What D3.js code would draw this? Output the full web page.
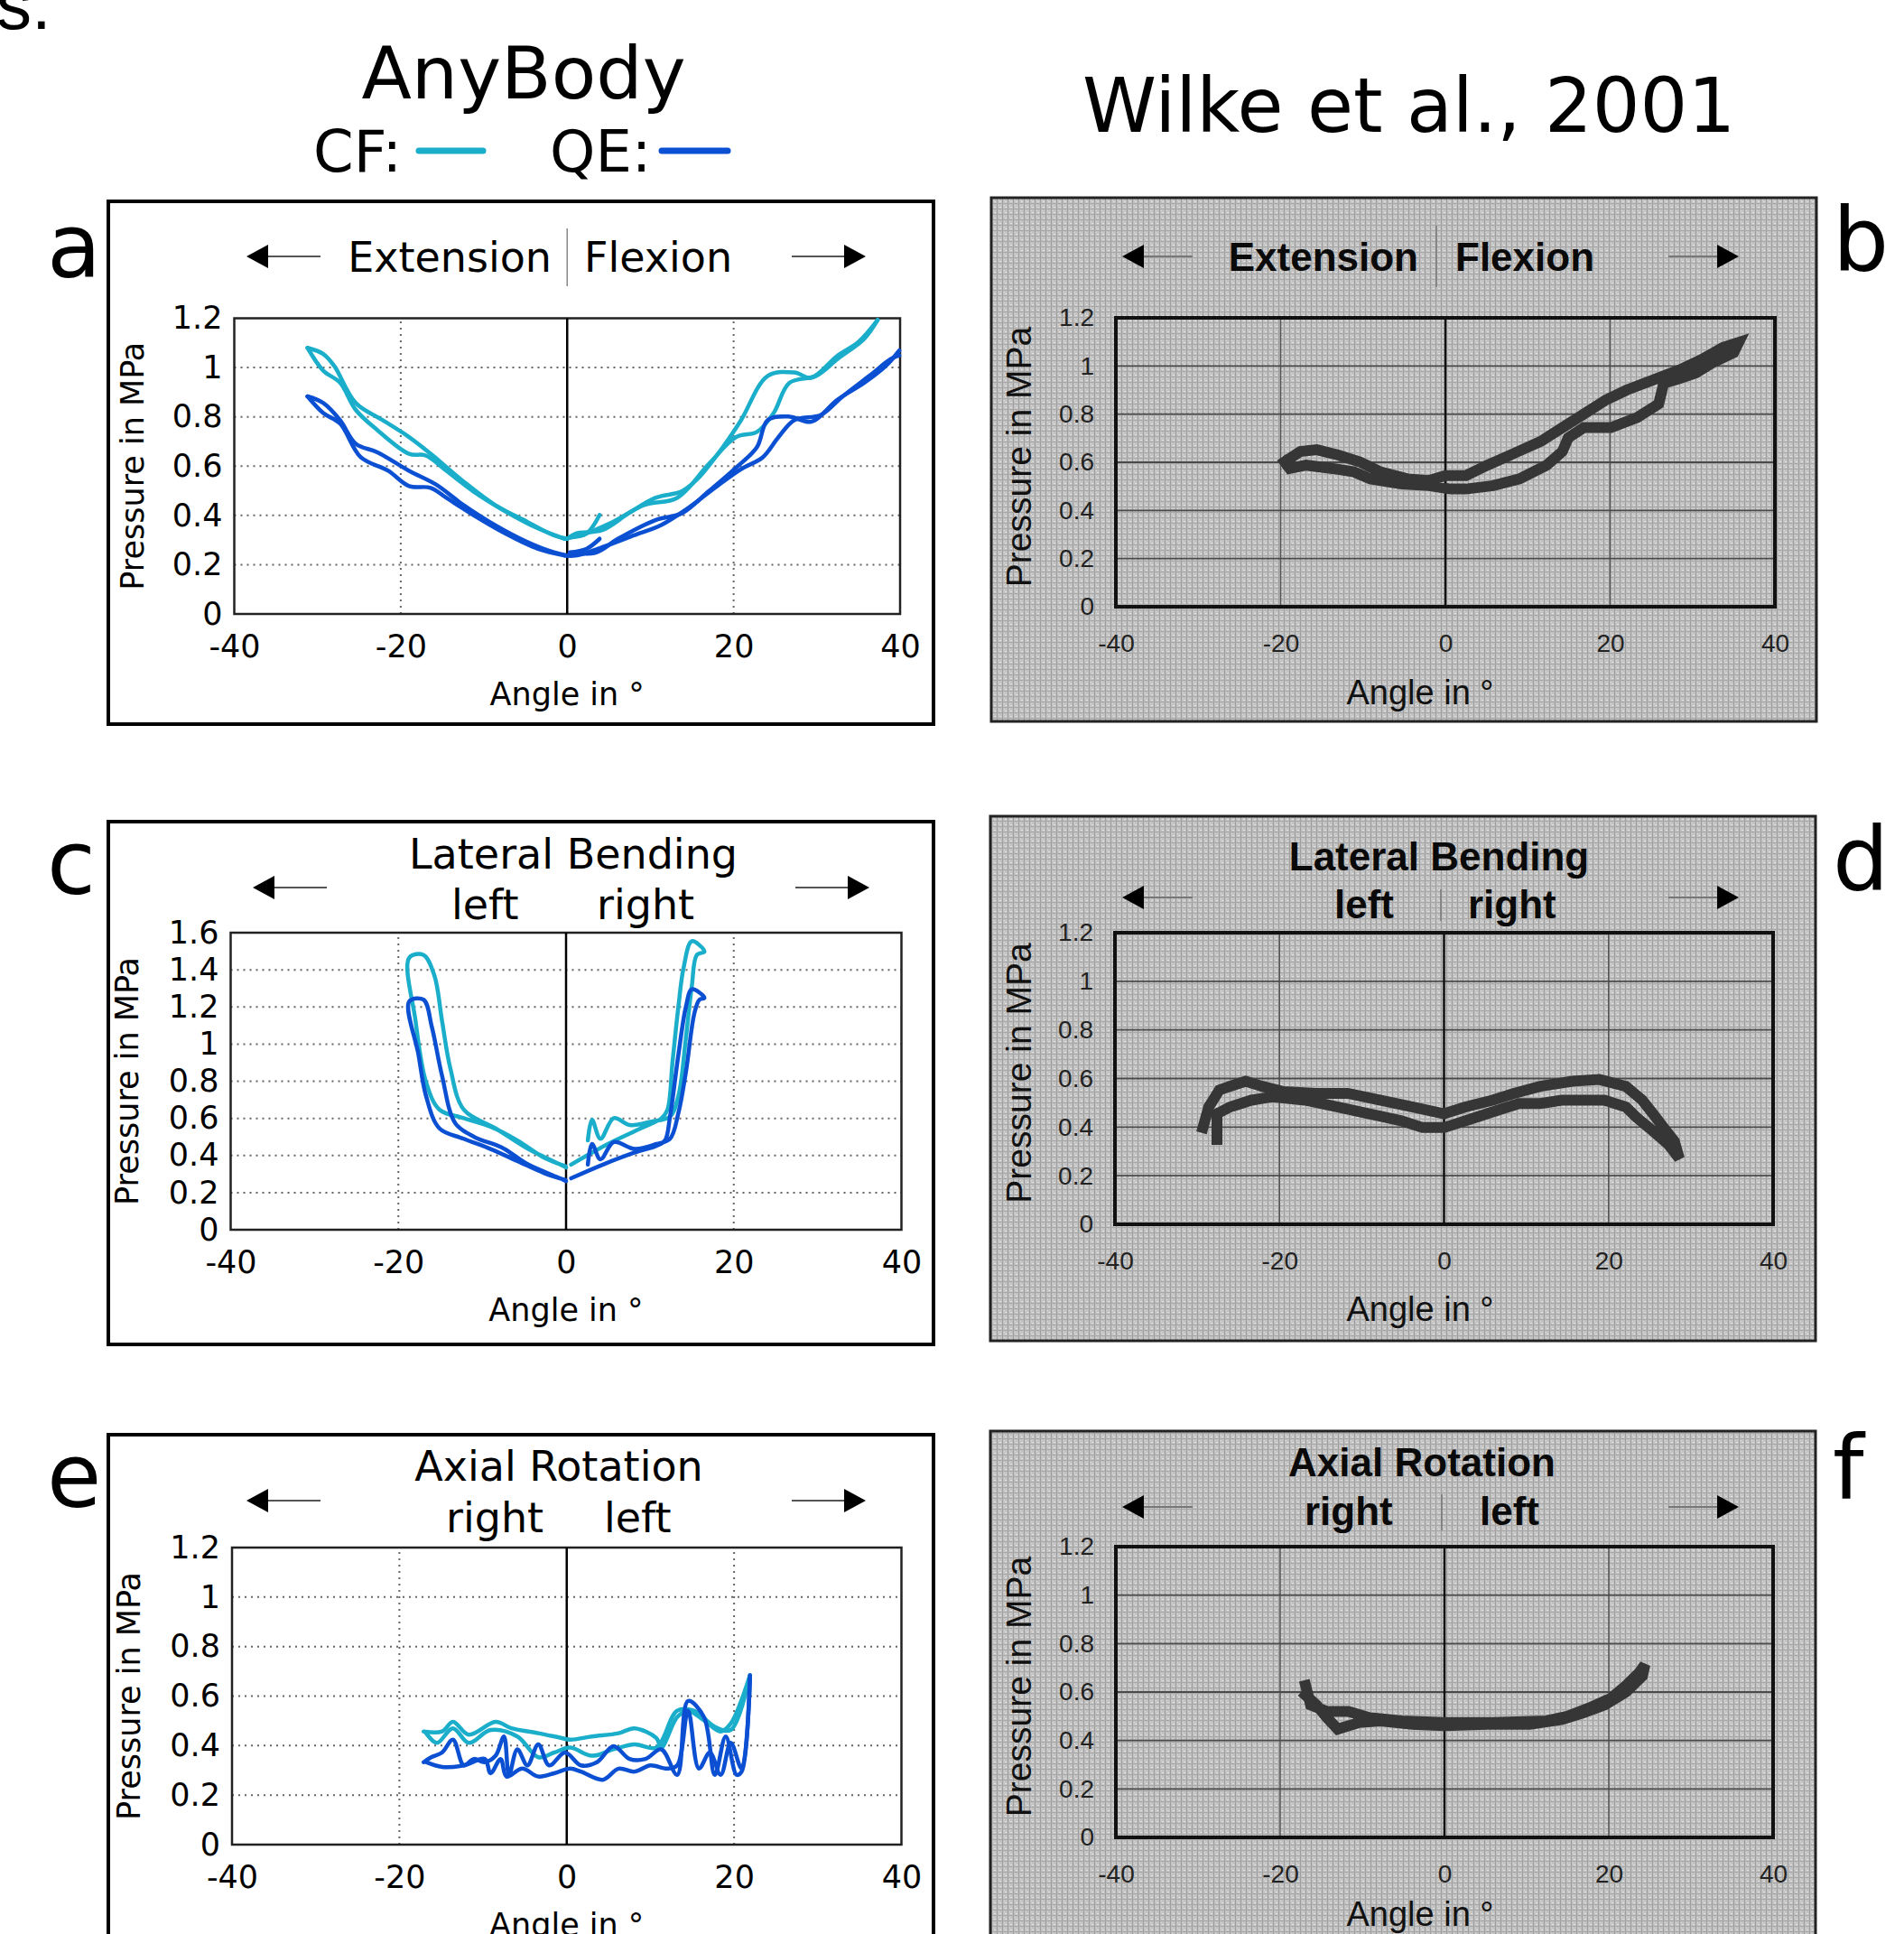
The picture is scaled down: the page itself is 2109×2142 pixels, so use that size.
<!DOCTYPE html>
<html>
<head>
<meta charset="utf-8">
<script src="https://cdnjs.cloudflare.com/ajax/libs/d3/7.8.5/d3.min.js"></script>
<style>
  body { margin: 0; background: #fff; }
</style>
</head>
<body>
<script>
// ---- tick values ----
var angleTicks = [-40, -20, 0, 20, 40];
var pTicks12 = [0, 0.2, 0.4, 0.6, 0.8, 1, 1.2];
var pTicks16 = [0, 0.2, 0.4, 0.6, 0.8, 1, 1.2, 1.4, 1.6];

// ---- AnyBody: flexion / extension (angle, pressure) ----
var flexCF = [
  [[-31.2,1.08],[-29.3,1.055],[-28.0,1.007],[-25.4,0.856],[-22.2,0.787],[-19.0,0.718],[-16.4,0.65],[-12.5,0.539],[-8.7,0.443],[-4.8,0.374],[-1.6,0.319],[0,0.305]],
  [[-31.2,1.08],[-29.3,0.987],[-27.3,0.939],[-25.4,0.828],[-22.8,0.746],[-19.0,0.65],[-17.0,0.643],[-14.5,0.581],[-11.3,0.498],[-7.4,0.416],[-3.5,0.347],[-0.3,0.305]],
  [[0,0.305],[1.0,0.326],[4.2,0.34],[7.4,0.409],[10.6,0.471],[13.8,0.498],[15.8,0.553],[19.0,0.691],[20.9,0.787],[24.1,0.966],[27.3,0.98],[29.3,0.959],[32.5,1.049],[35.0,1.104],[37.3,1.193]],
  [[-0.3,0.305],[1.6,0.319],[5.5,0.374],[9.3,0.443],[13.2,0.471],[17.0,0.608],[20.3,0.718],[22.8,0.739],[24.8,0.815],[26.7,0.938],[29.9,0.966],[32.5,1.035],[35.7,1.117],[37.3,1.193]],
  [[0.3,0.312],[2.3,0.326],[3.9,0.402]]
];
var flexQE = [
  [[-31.2,0.883],[-29.3,0.856],[-27.3,0.787],[-25.4,0.691],[-22.8,0.656],[-19.0,0.581],[-15.8,0.526],[-12.5,0.443],[-8.7,0.361],[-4.8,0.292],[-1.6,0.25],[0,0.237]],
  [[-31.2,0.883],[-29.3,0.815],[-27.3,0.773],[-24.8,0.636],[-21.5,0.581],[-19.0,0.519],[-16.4,0.512],[-14.5,0.471],[-11.3,0.402],[-7.4,0.326],[-3.5,0.264],[-0.3,0.237]],
  [[0,0.237],[0.6,0.244],[3.5,0.25],[6.1,0.305],[10.6,0.381],[13.8,0.409],[17.0,0.498],[20.3,0.594],[22.8,0.677],[24.1,0.787],[26.7,0.801],[29.3,0.78],[32.5,0.87],[35.7,0.938],[38.3,1.007],[39.9,1.069]],
  [[-0.3,0.237],[1.0,0.237],[4.8,0.278],[8.0,0.319],[11.3,0.361],[14.5,0.429],[18.3,0.526],[20.9,0.588],[23.5,0.636],[25.4,0.718],[27.3,0.787],[30.5,0.808],[33.1,0.883],[36.3,0.966],[38.9,1.035],[39.9,1.049]],
  [[0.3,0.25],[2.3,0.264],[3.9,0.305]]
];

// ---- AnyBody: lateral bending ----
var latCF = [
  [[-0.06,0.342],[-2.6,0.388],[-5.8,0.481],[-9.0,0.555],[-12.2,0.601],[-15.1,0.647],[-16.7,0.795],[-17.96,1.128],[-18.7,1.465],[-17.0,1.48],[-15.7,1.369],[-14.8,1.128],[-13.8,0.869],[-12.2,0.647],[-8.4,0.546],[-4.5,0.435],[-0.7,0.351],[0,0.335]],
  [[0.6,0.351],[5.0,0.462],[8.9,0.546],[11.4,0.601],[12.1,0.647],[12.7,0.906],[13.4,1.202],[14.0,1.406],[15.0,1.554],[16.5,1.498],[15.6,1.48],[15.0,1.313],[14.3,1.036],[13.4,0.721],[12.4,0.61],[10.2,0.583],[7.6,0.564],[5.7,0.601],[4.1,0.49],[3.1,0.592],[2.6,0.481]]
];
var latQE = [
  [[-0.06,0.268],[-2.6,0.305],[-5.8,0.37],[-9.0,0.435],[-12.2,0.49],[-15.1,0.546],[-16.7,0.721],[-17.6,0.943],[-18.7,1.23],[-17.0,1.239],[-16.0,1.091],[-14.8,0.832],[-13.2,0.573],[-10.9,0.499],[-7.7,0.444],[-4.5,0.351],[-0.7,0.277],[0,0.262]],
  [[0.6,0.277],[4.4,0.351],[8.2,0.416],[10.8,0.453],[11.8,0.481],[12.4,0.61],[13.4,0.943],[14.3,1.202],[15.0,1.295],[16.5,1.249],[15.9,1.239],[15.3,1.165],[14.3,0.851],[13.4,0.629],[12.4,0.49],[10.8,0.462],[8.2,0.435],[5.7,0.472],[4.1,0.379],[3.1,0.462],[2.6,0.351]]
];

// ---- AnyBody: axial rotation ----
var rotCF = [
  [[-17.1,0.457],[-14.9,0.457],[-13.6,0.496],[-11.7,0.444],[-8.5,0.496],[-6.6,0.47],[-3.4,0.45],[-0.8,0.432],[0.4,0.424],[3.0,0.437],[6.2,0.45],[8.1,0.47],[10.7,0.431],[11.3,0.392],[13.2,0.515],[14.5,0.541],[16.4,0.502],[18.4,0.457],[19.6,0.489],[21.9,0.684]],
  [[-16.8,0.45],[-15.5,0.411],[-13.6,0.47],[-11.7,0.411],[-9.1,0.463],[-5.9,0.437],[-3.4,0.353],[-1.5,0.372],[0.4,0.392],[3.0,0.359],[5.6,0.385],[8.1,0.405],[10.7,0.392],[13.2,0.541],[15.2,0.541],[17.7,0.476],[19.6,0.463],[21.9,0.684]]
];
var rotQE = [
  [[-17.1,0.333],[-16.2,0.353],[-14.9,0.372],[-13.6,0.424],[-12.3,0.32],[-11.1,0.346],[-9.8,0.333],[-8.5,0.359],[-7.5,0.437],[-6.9,0.282],[-5.9,0.385],[-4.7,0.32],[-3.4,0.405],[-2.1,0.32],[-0.2,0.372],[1.7,0.32],[3.6,0.333],[5.6,0.398],[7.5,0.346],[9.4,0.346],[11.3,0.385],[13.2,0.282],[14.5,0.58],[16.4,0.515],[17.7,0.282],[19.0,0.437],[20.3,0.282],[20.9,0.295],[21.9,0.684]],
  [[-16.8,0.333],[-14.9,0.314],[-12.3,0.32],[-9.8,0.346],[-9.1,0.288],[-7.9,0.346],[-7.2,0.275],[-5.3,0.307],[-3.4,0.275],[-1.5,0.288],[0.4,0.307],[1.7,0.295],[4.3,0.262],[6.2,0.307],[8.1,0.295],[10.0,0.32],[12.0,0.307],[13.2,0.32],[14.5,0.541],[15.8,0.307],[17.1,0.372],[18.4,0.282],[19.6,0.411],[20.9,0.307],[21.9,0.671]]
];

// ---- Wilke et al. 2001 (measured loops) ----
var wilkeFlex = [[-19.5,0.602],[-17.6,0.645],[-15.6,0.652],[-13.0,0.63],[-10.4,0.602],[-7.9,0.56],[-4.6,0.531],[-2.0,0.524],[0,0.545],[2.5,0.545],[5.1,0.588],[8.4,0.638],[11.6,0.687],[14.2,0.744],[16.8,0.8],[19.4,0.857],[22.0,0.9],[25.2,0.942],[28.5,0.985],[31.1,1.027],[33.7,1.077],[35.6,1.098],
  [35.0,1.056],[32.4,1.013],[30.4,0.971],[28.5,0.949],[26.5,0.928],[25.9,0.843],[23.3,0.786],[20.1,0.744],[16.8,0.744],[14.9,0.701],[14.2,0.645],[12.3,0.588],[9.0,0.531],[5.8,0.503],[2.5,0.489],[0.6,0.489],[-2.0,0.503],[-5.3,0.51],[-9.1,0.531],[-11.1,0.56],[-13.7,0.574],[-16.9,0.588],[-18.9,0.574],[-19.5,0.602]];
var wilkeLat = [[-29.3,0.398],[-28.6,0.483],[-27.3,0.553],[-25.4,0.575],[-24.1,0.589],[-22.1,0.568],[-19.5,0.546],[-15.6,0.539],[-11.7,0.539],[-7.8,0.511],[-3.9,0.483],[0,0.455],[2.6,0.483],[5.9,0.511],[8.5,0.539],[11.7,0.568],[15.6,0.589],[18.9,0.596],[22.1,0.568],[24.1,0.511],[25.4,0.455],[26.7,0.398],[28.0,0.342],[28.6,0.271],
  [27.3,0.328],[25.4,0.384],[23.4,0.44],[22.1,0.483],[19.5,0.511],[16.9,0.511],[14.3,0.511],[11.7,0.497],[9.1,0.497],[6.5,0.469],[3.9,0.44],[1.3,0.412],[0,0.398],[-2.6,0.398],[-5.2,0.426],[-9.1,0.455],[-13.0,0.483],[-16.9,0.511],[-20.8,0.525],[-23.4,0.511],[-26.0,0.483],[-27.6,0.455],[-27.6,0.349]];
var wilkeRot = [[-16.9,0.627],[-16.3,0.547],[-14.3,0.52],[-11.7,0.52],[-9.1,0.494],[-5.2,0.481],[0,0.474],[5.9,0.474],[12.4,0.481],[14.96,0.5],[17.6,0.534],[20.2,0.573],[22.1,0.627],[23.7,0.68],[24.4,0.713],
  [24.1,0.666],[22.1,0.6],[19.5,0.547],[16.9,0.514],[14.3,0.487],[10.4,0.467],[5.2,0.467],[0,0.461],[-3.9,0.467],[-7.8,0.481],[-10.4,0.474],[-13.0,0.447],[-14.3,0.494],[-15.6,0.547],[-16.9,0.587]];

var CF_COLOR = '#1aaecb', QE_COLOR = '#0b4fd3';
var SANS = 'DejaVu Sans, Verdana, sans-serif';
var ARIAL = 'Liberation Sans, Arial, Helvetica, sans-serif';

var svg = d3.select('body').append('svg')
    .attr('width', 2109).attr('height', 2142)
    .style('display', 'block');

// halftone-like grain for the scanned panels
var defs = svg.append('defs');
var pat = defs.append('pattern').attr('id', 'grain')
    .attr('width', 6).attr('height', 6).attr('patternUnits', 'userSpaceOnUse');
pat.append('rect').attr('width', 6).attr('height', 6).attr('fill', '#c2c2c2');
pat.append('rect').attr('x', 0).attr('width', 1).attr('height', 6).attr('fill', '#9d9d9d');
pat.append('rect').attr('y', 3).attr('width', 6).attr('height', 1).attr('fill', '#a8a8a8');
pat.append('rect').attr('x', 3).attr('y', 1).attr('width', 2).attr('height', 1).attr('fill', '#e2e2e2');
pat.append('rect').attr('x', 2).attr('y', 5).attr('width', 1).attr('height', 1).attr('fill', '#dadada');

// ---- header ----
svg.append('text').attr('x', -4).attr('y', 32)
    .style('font-family', ARIAL).style('font-size', '78px').text('s.');
svg.append('text').attr('x', 580).attr('y', 109).attr('text-anchor', 'middle')
    .style('font-family', SANS).style('font-size', '81px').text('AnyBody');
svg.append('text').attr('x', 1199).attr('y', 146)
    .style('font-family', SANS).style('font-size', '83px').text('Wilke et al., 2001');
svg.append('text').attr('x', 347).attr('y', 190)
    .style('font-family', SANS).style('font-size', '64px').text('CF:');
svg.append('text').attr('x', 609).attr('y', 190)
    .style('font-family', SANS).style('font-size', '64px').text('QE:');
[[464, 535, CF_COLOR], [733, 806, QE_COLOR]].forEach(function(l) {
  svg.append('line').attr('x1', l[0]).attr('x2', l[1]).attr('y1', 167).attr('y2', 167)
      .attr('stroke', l[2]).attr('stroke-width', 7).attr('stroke-linecap', 'round');
});

// panel letters
[['a', 52, 307], ['b', 2030, 300], ['c', 52, 990], ['d', 2030, 986], ['e', 52, 1669], ['f', 2030, 1660]]
  .forEach(function(p) {
    svg.append('text').attr('x', p[1]).attr('y', p[2])
        .style('font-family', SANS).style('font-size', '98px').text(p[0]);
  });

function arrow(g, xTail, xTip, y, color) {
  var dir = xTip > xTail ? 1 : -1;
  var head = 24;
  g.append('line').attr('x1', xTail).attr('x2', xTip - dir * head).attr('y1', y).attr('y2', y)
      .attr('stroke', color).attr('stroke-width', 2);
  g.append('path')
      .attr('d', 'M' + xTip + ',' + y + 'L' + (xTip - dir * head) + ',' + (y - 13) +
                 'L' + (xTip - dir * head) + ',' + (y + 13) + 'Z')
      .attr('fill', '#000');
}

// ---- AnyBody panel ----
function anyPanel(o) {
  var g = svg.append('g');
  g.append('rect').attr('x', o.box[0]).attr('y', o.box[1])
      .attr('width', o.box[2] - o.box[0]).attr('height', o.box[3] - o.box[1])
      .attr('fill', '#fff').attr('stroke', '#000').attr('stroke-width', 4);

  var x = d3.scaleLinear().domain([-40, 40]).range([o.plot[0], o.plot[2]]);
  var y = d3.scaleLinear().domain([0, o.ymax]).range([o.plot[3], o.plot[1]]);

  // dotted grid
  g.selectAll('.gx').data(angleTicks.filter(function(d) { return d !== 0 && Math.abs(d) !== 40; }))
    .enter().append('line')
      .attr('x1', function(d) { return x(d); }).attr('x2', function(d) { return x(d); })
      .attr('y1', y(0)).attr('y2', y(o.ymax))
      .attr('stroke', '#666').attr('stroke-width', 2).attr('stroke-dasharray', '2,5');
  g.selectAll('.gy').data(o.yticks.filter(function(d) { return d > 0 && d < o.ymax; }))
    .enter().append('line')
      .attr('x1', x(-40)).attr('x2', x(40))
      .attr('y1', function(d) { return y(d); }).attr('y2', function(d) { return y(d); })
      .attr('stroke', '#666').attr('stroke-width', 2).attr('stroke-dasharray', '2,5');

  g.append('rect').attr('x', x(-40)).attr('y', y(o.ymax))
      .attr('width', x(40) - x(-40)).attr('height', y(0) - y(o.ymax))
      .attr('fill', 'none').attr('stroke', '#222').attr('stroke-width', 2.5);
  g.append('line').attr('x1', x(0)).attr('x2', x(0)).attr('y1', y(0)).attr('y2', y(o.ymax))
      .attr('stroke', '#000').attr('stroke-width', 2.5);

  var xAxis = g.append('g').attr('transform', 'translate(0,' + y(0) + ')')
      .call(d3.axisBottom(x).tickValues(angleTicks).tickSize(0).tickPadding(23)
            .tickFormat(function(d) { return String(d); }));
  var yAxis = g.append('g').attr('transform', 'translate(' + x(-40) + ',0)')
      .call(d3.axisLeft(y).tickValues(o.yticks).tickSize(0).tickPadding(13)
            .tickFormat(function(d) { return String(+d.toFixed(1)); }));
  [xAxis, yAxis].forEach(function(a) {
    a.select('.domain').remove();
    a.selectAll('text').style('font-family', SANS).style('font-size', '35px').attr('fill', '#000');
  });
  xAxis.selectAll('text').attr('dy', '0.71em');

  g.append('text').attr('x', x(0)).attr('y', y(0) + 101).attr('text-anchor', 'middle')
      .style('font-family', SANS).style('font-size', '35px').text('Angle in °');
  g.append('text')
      .attr('transform', 'translate(' + o.ylabX + ',' + ((y(0) + y(o.ymax)) / 2) + ') rotate(-90)')
      .attr('text-anchor', 'middle').attr('dy', '0.35em')
      .style('font-family', SANS).style('font-size', '35px').text('Pressure in MPa');

  // titles
  o.titles.forEach(function(t) {
    g.append('text').attr('x', t[1]).attr('y', t[2]).attr('text-anchor', t[3]).attr('dy', '0.36em')
        .style('font-family', SANS).style('font-size', '46px').text(t[0]);
  });
  if (o.sep) {
    g.append('line').attr('x1', x(0)).attr('x2', x(0)).attr('y1', o.sep[0]).attr('y2', o.sep[1])
        .attr('stroke', '#888').attr('stroke-width', 1.5);
  }
  arrow(g, o.arrows[0] + 82, o.arrows[0], o.arrows[2], '#555');
  arrow(g, o.arrows[1] - 82, o.arrows[1], o.arrows[2], '#555');

  var line = d3.line().x(function(d) { return x(d[0]); }).y(function(d) { return y(d[1]); })
      .curve(d3.curveCatmullRom.alpha(0.5));
  o.series.forEach(function(s) {
    g.selectAll(null).data(s.paths).enter().append('path')
        .attr('d', line).attr('fill', 'none').attr('stroke', s.color)
        .attr('stroke-width', 4.5).attr('stroke-linejoin', 'round').attr('stroke-linecap', 'round');
  });
}

// ---- Wilke (scanned) panel ----
function wilkePanel(o) {
  var g = svg.append('g');
  g.append('rect').attr('x', o.box[0]).attr('y', o.box[1])
      .attr('width', o.box[2] - o.box[0]).attr('height', o.box[3] - o.box[1])
      .attr('fill', 'url(#grain)').attr('stroke', '#222').attr('stroke-width', 3);

  var x = d3.scaleLinear().domain([-40, 40]).range([o.plot[0], o.plot[2]]);
  var y = d3.scaleLinear().domain([0, 1.2]).range([o.plot[3], o.plot[1]]);

  g.selectAll('.gx').data([-20, 20]).enter().append('line')
      .attr('x1', function(d) { return x(d); }).attr('x2', function(d) { return x(d); })
      .attr('y1', y(0)).attr('y2', y(1.2))
      .attr('stroke', '#555').attr('stroke-width', 1.5);
  g.selectAll('.gy').data(pTicks12.filter(function(d) { return d > 0 && d < 1.2; })).enter().append('line')
      .attr('x1', x(-40)).attr('x2', x(40))
      .attr('y1', function(d) { return y(d); }).attr('y2', function(d) { return y(d); })
      .attr('stroke', '#4a4a4a').attr('stroke-width', 1.8);
  g.append('line').attr('x1', x(0)).attr('x2', x(0)).attr('y1', y(0)).attr('y2', y(1.2))
      .attr('stroke', '#111').attr('stroke-width', 2.5);
  g.append('rect').attr('x', x(-40)).attr('y', y(1.2))
      .attr('width', x(40) - x(-40)).attr('height', y(0) - y(1.2))
      .attr('fill', 'none').attr('stroke', '#111').attr('stroke-width', 4);

  var xAxis = g.append('g').attr('transform', 'translate(0,' + y(0) + ')')
      .call(d3.axisBottom(x).tickValues(angleTicks).tickSize(0).tickPadding(30)
            .tickFormat(function(d) { return String(d); }));
  var yAxis = g.append('g').attr('transform', 'translate(' + x(-40) + ',0)')
      .call(d3.axisLeft(y).tickValues(pTicks12).tickSize(0).tickPadding(24)
            .tickFormat(function(d) { return String(+d.toFixed(1)); }));
  [xAxis, yAxis].forEach(function(a) {
    a.select('.domain').remove();
    a.selectAll('text').style('font-family', ARIAL).style('font-size', '28px').attr('fill', '#222');
  });
  xAxis.selectAll('text').attr('dy', '0.71em');

  g.append('text').attr('x', o.xlab[0]).attr('y', o.xlab[1]).attr('text-anchor', 'middle')
      .style('font-family', ARIAL).style('font-size', '38px').attr('fill', '#111').text('Angle in °');
  g.append('text')
      .attr('transform', 'translate(' + o.ylabX + ',' + ((y(0) + y(1.2)) / 2 - 6) + ') rotate(-90)')
      .attr('text-anchor', 'middle').attr('dy', '0.35em')
      .style('font-family', ARIAL).style('font-size', '39px').attr('fill', '#111').text('Pressure in MPa');

  o.titles.forEach(function(t) {
    g.append('text').attr('x', t[1]).attr('y', t[2]).attr('text-anchor', t[3]).attr('dy', '0.36em')
        .style('font-family', ARIAL).style('font-weight', 'bold').style('font-size', '44px')
        .attr('fill', '#0a0a0a').text(t[0]);
  });
  g.append('line').attr('x1', o.sep[0]).attr('x2', o.sep[0]).attr('y1', o.sep[1]).attr('y2', o.sep[2])
      .attr('stroke', '#777').attr('stroke-width', 1.5);
  arrow(g, o.arrows[0] + 78, o.arrows[0], o.arrows[2], '#777');
  arrow(g, o.arrows[1] - 78, o.arrows[1], o.arrows[2], '#777');

  var line = d3.line().x(function(d) { return x(d[0]); }).y(function(d) { return y(d[1]); });
  g.append('path').datum(o.data).attr('d', line)
      .attr('fill', 'none').attr('stroke', '#363636').attr('stroke-width', 12)
      .attr('stroke-linejoin', 'miter').attr('stroke-linecap', 'square');
}

anyPanel({
  box: [120, 223, 1034, 802], plot: [259.5, 352.5, 997, 680], ymax: 1.2, yticks: pTicks12, ylabX: 147,
  titles: [['Extension', 611, 284, 'end'], ['Flexion', 647, 284, 'start']], sep: [253, 317],
  arrows: [273, 959, 284],
  series: [{ color: CF_COLOR, paths: flexCF }, { color: QE_COLOR, paths: flexQE }]
});
anyPanel({
  box: [120, 910, 1034, 1489], plot: [255.5, 1033, 998.5, 1362], ymax: 1.6, yticks: pTicks16, ylabX: 141,
  titles: [['Lateral Bending', 635, 945, 'middle'], ['left', 500, 1001, 'start'], ['right', 661, 1001, 'start']],
  arrows: [280, 963, 983],
  series: [{ color: CF_COLOR, paths: latCF }, { color: QE_COLOR, paths: latQE }]
});
anyPanel({
  box: [120, 1589, 1034, 2170], plot: [257, 1714, 998.5, 2043], ymax: 1.2, yticks: pTicks12, ylabX: 143,
  titles: [['Axial Rotation', 619, 1623, 'middle'], ['right', 494, 1680, 'start'], ['left', 669, 1680, 'start']],
  arrows: [273, 959, 1662],
  series: [{ color: CF_COLOR, paths: rotCF }, { color: QE_COLOR, paths: rotQE }]
});

wilkePanel({
  box: [1098, 219, 2012, 799], plot: [1236, 352, 1966, 672], ylabX: 1128, xlab: [1573, 780],
  titles: [['Extension', 1571, 284, 'end'], ['Flexion', 1612, 284, 'start']], sep: [1591, 250, 318],
  arrows: [1243, 1926, 284], data: wilkeFlex
});
wilkePanel({
  box: [1097, 904, 2011, 1485], plot: [1235, 1033, 1964, 1356], ylabX: 1128, xlab: [1573, 1463],
  titles: [['Lateral Bending', 1594, 948, 'middle'], ['left', 1478, 1001, 'start'], ['right', 1626, 1001, 'start']],
  sep: [1596, 985, 1020], arrows: [1243, 1926, 994], data: wilkeLat
});
wilkePanel({
  box: [1097, 1585, 2011, 2170], plot: [1236, 1713, 1964, 2035], ylabX: 1128, xlab: [1573, 2133],
  titles: [['Axial Rotation', 1575, 1619, 'middle'], ['right', 1445, 1673, 'start'], ['left', 1639, 1673, 'start']],
  sep: [1597, 1655, 1695], arrows: [1243, 1926, 1669], data: wilkeRot
});
</script>
</body>
</html>
